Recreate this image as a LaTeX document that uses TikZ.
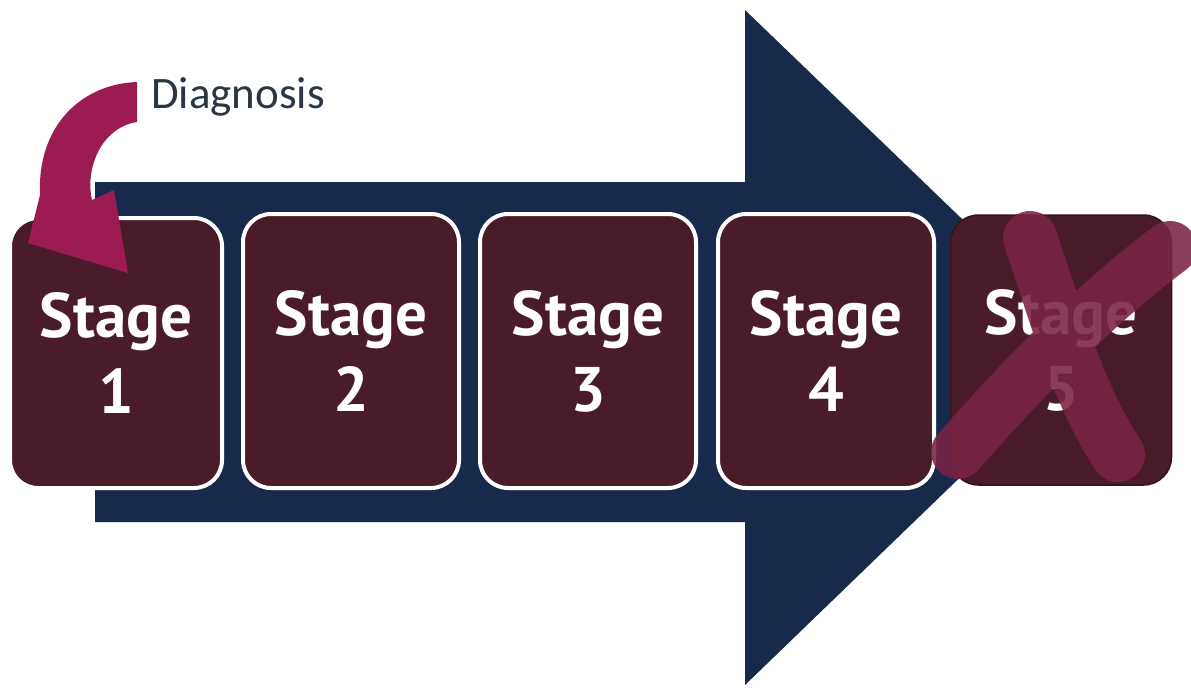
\documentclass[tikz,border=0pt]{standalone}
\usepackage{fontspec}
\newfontfamily\stagefont{PT Sans}
\newfontfamily\diagfont{Carlito}
\definecolor{navy}{HTML}{172A4C}
\definecolor{maroon}{HTML}{4A1B29}
\definecolor{magarrow}{HTML}{9C1B52}
\definecolor{xcol}{HTML}{7A2345}
\definecolor{diagtext}{HTML}{2A3644}
\begin{document}
\begin{tikzpicture}[x=1pt,y=-1pt,
  stagebox/.style={draw=white, line width=4pt, fill=maroon, rounded corners=28pt,
    minimum width=216pt, minimum height=274pt, inner sep=0pt, align=center,
    text=white, font=\stagefont\bfseries\fontsize{63}{76}\selectfont},
  lastbox/.style={stagebox, draw=maroon!70!black, line width=1.5pt, minimum width=221pt, minimum height=270pt}]
\useasboundingbox (0,0) rectangle (1191,689);
% big arrow
\fill[navy] (95,182) -- (745,182) -- (745,10) -- (1095,347) -- (745,685) -- (745,522) -- (95,522) -- cycle;
% stage boxes
\node[stagebox, minimum width=212pt, minimum height=270pt] (s1) at (116,353) {Stage\\1};
\node[stagebox] (s2) at (351,351) {Stage\\2};
\node[stagebox] (s3) at (588,351) {Stage\\3};
\node[stagebox] (s4) at (826,351) {Stage\\4};
\node[lastbox] (s5) at (1061,350) {Stage\\5};
% cross over stage 5
\draw[xcol, opacity=0.88, line width=54pt, line cap=round, draw opacity=0.88]
  (958,452) .. controls (1030,370) and (1100,300) .. (1170,248)
  (1030,238) .. controls (1052,300) and (1075,390) .. (1118,455);
% curved diagnosis arrow
\fill[magarrow] (137,82) .. controls (82,84) and (37,125) .. (40,195) -- (28,243) -- (128,273) -- (114,190) -- (92,200) .. controls (85,170) and (100,128) .. (137,122) -- cycle;
\node[anchor=west, text=diagtext, font=\diagfont\fontsize{45}{50}\selectfont, inner sep=0pt] (diag) at (151,97) {Diagnosis};
\end{tikzpicture}
\end{document}
